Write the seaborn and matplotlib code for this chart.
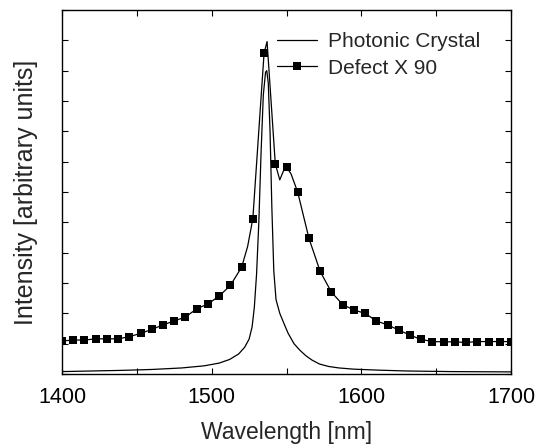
import matplotlib
matplotlib.use("Agg")
import matplotlib.pyplot as plt
import numpy as np
import seaborn as sns
import pandas as pd
from matplotlib.ticker import MultipleLocator, FuncFormatter

# Photonic crystal spectrum (arbitrary units)
pc_wl = [1400, 1420, 1440, 1460, 1480, 1495, 1505, 1512, 1518, 1522, 1525, 1527,
         1528.5, 1530, 1531.5, 1533, 1534.5, 1536, 1536.8, 1537.8, 1539, 1540.2,
         1541.5, 1543, 1545.5, 1548, 1551, 1555, 1559, 1563, 1567, 1572, 1578,
         1585, 1595, 1610, 1630, 1660, 1700]
pc_int = [0.08, 0.1, 0.12, 0.15, 0.2, 0.27, 0.36, 0.48, 0.66, 0.88, 1.15, 1.55,
          2.2, 3.3, 5.0, 7.3, 9.2, 9.95, 10.0, 9.6, 8.0, 5.5,
          3.4, 2.45, 2.0, 1.7, 1.35, 1.0, 0.78, 0.6, 0.46, 0.33, 0.25,
          0.2, 0.16, 0.13, 0.1, 0.08, 0.07]

# Defect spectrum x 90 (markers every 7.5 nm, extra line points near the peak)
defect_wl = [1400, 1407.5, 1415, 1422.5, 1430, 1437.5, 1445, 1452.5, 1460, 1467.5,
             1475, 1482.5, 1490, 1497.5, 1505, 1512.5, 1520, 1524, 1527.5, 1535,
             1537, 1542.5, 1545.5, 1548, 1550, 1553, 1557.5, 1565, 1572.5, 1580,
             1587.5, 1595, 1602.5, 1610, 1617.5, 1625, 1632.5, 1640, 1647.5, 1655,
             1662.5, 1670, 1677.5, 1685, 1692.5, 1700]
defect_int = [1.09, 1.12, 1.12, 1.16, 1.16, 1.16, 1.23, 1.34, 1.47, 1.62,
              1.75, 1.88, 2.15, 2.31, 2.57, 2.92, 3.52, 4.2, 5.12, 10.57,
              10.96, 6.93, 6.4, 6.7, 6.82, 6.6, 5.99, 4.47, 3.38, 2.7,
              2.29, 2.11, 2.0, 1.75, 1.62, 1.45, 1.28, 1.14, 1.07, 1.06,
              1.06, 1.04, 1.07, 1.07, 1.07, 1.07]
marker_step = 7.5

pc = pd.DataFrame({"wl": pc_wl, "I": pc_int})
defect = pd.DataFrame({"wl": defect_wl, "I": defect_int})
mark_idx = [i for i, w in enumerate(defect_wl)
            if abs((w - 1400) / marker_step - round((w - 1400) / marker_step)) < 1e-6]

sns.set_style("ticks")
plt.rcParams["font.family"] = ["Liberation Sans", "DejaVu Sans"]

fig = plt.figure(figsize=(5.41, 4.46), dpi=100)
ax = fig.add_axes([0.1146, 0.1614, 0.83, 0.8162])

sns.lineplot(data=pc, x="wl", y="I", ax=ax, color="black", linewidth=0.9,
             sort=False, label="Photonic Crystal")
sns.lineplot(data=defect, x="wl", y="I", ax=ax, color="black", linewidth=0.9,
             sort=False, marker="s", markersize=6, markeredgewidth=0,
             markevery=mark_idx, label="Defect X 90")

ax.set_xlim(1400, 1700)
ax.set_ylim(0, 12)
ax.xaxis.set_major_locator(MultipleLocator(100))
ax.xaxis.set_minor_locator(MultipleLocator(50))
ax.yaxis.set_major_locator(MultipleLocator(1))
ax.yaxis.set_major_formatter(FuncFormatter(lambda v, p: ""))
ax.tick_params(axis="both", which="both", direction="in", top=True, right=True,
               length=4, width=0.8, colors="black")
ax.tick_params(axis="x", labelsize=15.5, pad=9)
for s in ax.spines.values():
    s.set_linewidth(1.0)
    s.set_color("black")

ax.set_xlabel("Wavelength [nm]", fontsize=16.5, labelpad=10)
ax.set_ylabel("Intensity [arbitrary units]", fontsize=18, labelpad=14)

ax.legend(loc="upper left", bbox_to_anchor=(277 / 541, 1 - 32 / 446),
          bbox_transform=fig.transFigure, frameon=False, fontsize=15,
          handlelength=1.9, handletextpad=0.55, labelspacing=0.36,
          borderpad=0, borderaxespad=0, numpoints=1)

fig.savefig("out.png", dpi=100)
